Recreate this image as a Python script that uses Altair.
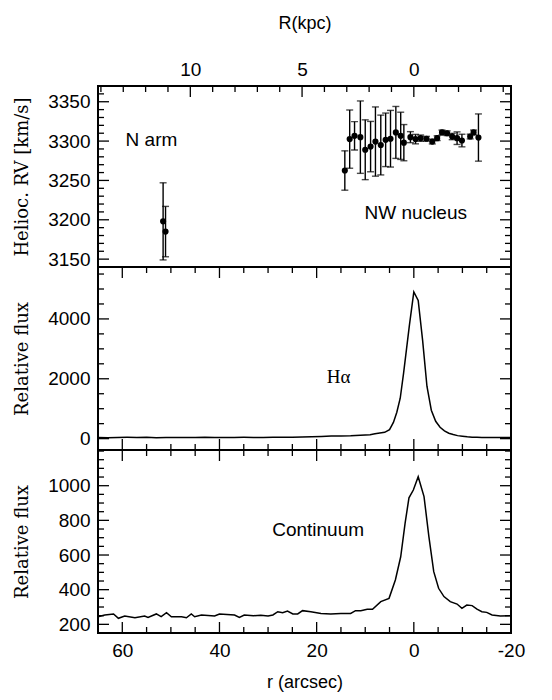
import altair as alt
import pandas as pd

# ---------------- data ----------------
# Top panel: heliocentric radial velocity (km/s) vs r (arcsec), with errors
rv_r = [14.2, 13.2, 12.2, 11.0, 10.0, 8.9, 7.9, 6.8, 5.8, 4.8,
        3.7, 2.7, 2.05, 0.7, -0.35, -1.4, -2.6, -3.8, -4.8, -5.8,
        -6.85, -7.9, -8.9, -9.9, -11.6, -12.3, -13.3, 51.6, 51.1]
rv_v = [3262.6, 3302.5, 3306.7, 3305, 3289, 3293, 3299.4, 3295, 3301.6, 3303,
        3311, 3306.7, 3298, 3305, 3302.5, 3303.7, 3303, 3299.4, 3303.7, 3311,
        3310, 3305.8, 3303.7, 3300.7, 3305.8, 3311, 3304.5, 3198, 3185]
rv_err = [25, 37, 18, 46, 38, 32, 44, 38, 34, 36,
          33, 30, 23, 7, 6, 4, 3, 3, 3, 3,
          3, 4, 8, 8, 3, 3, 30, 49, 32]

# Middle panel: H-alpha relative flux
ha_r = [65, 63, 61, 59, 57, 55, 53, 51, 49, 47,
        45, 43, 41, 39, 37, 35, 33, 31, 29, 27,
        25, 23, 21, 19, 17, 15, 13, 11, 9, 8,
        7, 6, 5, 4.2, 3.5, 2.8, 2.1, 1.5, 0.9, 0,
        -0.9, -1.8, -2.7, -3.6, -4.5, -5.4, -6.3, -7.2, -8.1, -9,
        -10, -11, -12, -13, -14, -16, -18, -20]
ha_f = [35, 30, 38, 42, 40, 45, 30, 38, 35, 40,
        36, 42, 40, 35, 38, 42, 40, 36, 45, 48,
        50, 55, 62, 75, 85, 90, 95, 110, 130, 160,
        185, 210, 300, 540, 880, 1350, 2200, 3000, 3800, 4900,
        4620, 3300, 1750, 950, 580, 380, 260, 180, 135, 100,
        80, 60, 50, 45, 40, 35, 40, 35]

# Bottom panel: continuum relative flux
co_r = [65, 63.6, 61.8, 60.8, 59.5, 57.4, 55.4, 54.7, 53, 52,
        50.9, 49.9, 47.8, 46.8, 45.8, 45.1, 43.7, 41, 40, 36.9,
        35.9, 34.9, 33, 31.5, 30, 29, 28, 27, 26, 24.9,
        23.9, 22.9, 21.2, 19.1, 17.1, 15, 13, 12, 10.9, 9.6,
        8.5, 6.8, 5.1, 3.8, 2.7, 1.8, 1.0, 0.1, -0.9, -2.1,
        -3.1, -4.1, -5.1, -6.2, -7.5, -8.9, -9.9, -10.9, -12, -13,
        -14, -15, -16.1, -17.8, -19.8]
co_f = [244, 254, 260, 235, 248, 238, 248, 240, 260, 244,
        267, 244, 244, 238, 260, 244, 254, 248, 260, 254,
        240, 254, 250, 252, 248, 254, 273, 267, 277, 260,
        260, 279, 273, 263, 260, 263, 263, 279, 279, 287,
        287, 331, 350, 456, 590, 783, 930, 975, 1052, 937,
        706, 504, 408, 360, 331, 317, 292, 311, 308, 288,
        273, 269, 254, 248, 250]

# Axis tick values
x_major = [60, 40, 20, 0, -20]
x_minor = [65, 55, 50, 45, 35, 30, 25, 15, 10, 5, -5, -10, -15]
kpc_major = [10, 5, 0]
kpc_minor = [14, 13, 12, 11, 9, 8, 7, 6, 4, 3, 2, 1, -1, -2, -3, -4]
rv_major = [3150, 3200, 3250, 3300, 3350]
rv_minor = [v for v in range(3140, 3371, 10) if v % 50 != 0]
ha_major = [0, 2000, 4000]
ha_minor = [500, 1000, 1500, 2500, 3000, 3500, 4500, 5000, 5500]
co_major = [200, 400, 600, 800, 1000]
co_minor = [150, 250, 300, 350, 450, 500, 550, 650, 700, 750, 850, 900, 950, 1050, 1100, 1150, 1200]

# Annotations
top_labels = ["N arm", "NW nucleus"]
top_label_r = [54, -0.4]
top_label_v = [3302, 3209]
ha_label = ["Hα"]
ha_label_r = [15.5]
ha_label_f = [2067]
co_label = ["Continuum"]
co_label_r = [19.7]
co_label_f = [744]

# ---------------- layout constants ----------------
W = 413
H1, H2, H3 = 181, 183, 183
XDOM = [65, -20]
KPC_PER_ARCSEC = 5 / 23
KDOM = [XDOM[0] * KPC_PER_ARCSEC, XDOM[1] * KPC_PER_ARCSEC]
SANS = "Liberation Sans"
SERIF_T = "DejaVu Serif"
TW = 1.3
MAJ, MIN = 11, 6


def xs():
    return alt.Scale(domain=XDOM, nice=False, zero=False)


def yaxis(title, values):
    return alt.Axis(title=title, values=values, format="d", tickSize=0, domain=False,
                    grid=False, labelPadding=8, labelFlush=False, labelOverlap=False,
                    titleFont=SERIF_T, titleFontSize=18, titleFontWeight="normal",
                    titlePadding=16)


XAX_BOTTOM = alt.Axis(values=x_major, labelExpr="'' + datum.value", title="r (arcsec)",
                      tickSize=0, domain=False, grid=False, labelPadding=8,
                      labelFlush=False, titlePadding=13)


def xtick_layers(vals, scale, xaxis, H, length):
    base = alt.Chart(pd.DataFrame({"t": vals})).mark_rule(color="black", strokeWidth=TW)
    return [
        base.encode(x=alt.X("t:Q", scale=scale, axis=xaxis), y=alt.value(0), y2=alt.value(length)),
        base.encode(x=alt.X("t:Q", scale=scale, axis=xaxis), y=alt.value(H), y2=alt.value(H - length)),
    ]


def ytick_layers(vals, scale, yax, length):
    base = alt.Chart(pd.DataFrame({"t": vals})).mark_rule(color="black", strokeWidth=TW)
    return [
        base.encode(y=alt.Y("t:Q", scale=scale, axis=yax), x=alt.value(0), x2=alt.value(length)),
        base.encode(y=alt.Y("t:Q", scale=scale, axis=yax), x=alt.value(W), x2=alt.value(W - length)),
    ]


# ---------------- top panel ----------------
ys1 = alt.Scale(domain=[3140, 3370], nice=False, zero=False)
ya1 = yaxis("Helioc. RV [km/s]", rv_major)
rv_df = pd.DataFrame({"r": rv_r, "v": rv_v, "e": rv_err})
rv_base = alt.Chart(rv_df).transform_calculate(lo="datum.v - datum.e", hi="datum.v + datum.e")

ebar = rv_base.mark_rule(color="black", strokeWidth=1.4).encode(
    x=alt.X("r:Q", scale=xs(), axis=None),
    y=alt.Y("lo:Q", scale=ys1, axis=ya1), y2="hi:Q")
cap_lo = rv_base.mark_tick(orient="horizontal", size=7, thickness=1.4, color="black").encode(
    x=alt.X("r:Q", scale=xs(), axis=None), y=alt.Y("lo:Q", scale=ys1, axis=ya1))
cap_hi = rv_base.mark_tick(orient="horizontal", size=7, thickness=1.4, color="black").encode(
    x=alt.X("r:Q", scale=xs(), axis=None), y=alt.Y("hi:Q", scale=ys1, axis=ya1))
pts = alt.Chart(rv_df).mark_circle(size=38, color="black", opacity=1).encode(
    x=alt.X("r:Q", scale=xs(), axis=None),
    y=alt.Y("v:Q", scale=ys1, axis=ya1))
top_txt = alt.Chart(pd.DataFrame({"l": top_labels, "r": top_label_r, "v": top_label_v})).mark_text(
    font=SANS, fontSize=19, color="black", align="center", baseline="middle").encode(
    x=alt.X("r:Q", scale=xs(), axis=None), y=alt.Y("v:Q", scale=ys1, axis=ya1), text="l:N")

kscale = alt.Scale(domain=KDOM, nice=False, zero=False)
KAX = alt.Axis(orient="top", values=kpc_major, format="d", title="R(kpc)",
               tickSize=0, domain=False, grid=False, labelPadding=7,
               labelFlush=False, titlePadding=28)
kpc_major_layer = alt.Chart(pd.DataFrame({"k": kpc_major})).mark_rule(color="black", strokeWidth=TW).encode(
    x=alt.X("k:Q", scale=kscale, axis=KAX), y=alt.value(0), y2=alt.value(MAJ))
kpc_minor_layer = alt.Chart(pd.DataFrame({"k": kpc_minor})).mark_rule(color="black", strokeWidth=TW).encode(
    x=alt.X("k:Q", scale=kscale, axis=None), y=alt.value(0), y2=alt.value(MIN))

top = alt.layer(
    ebar, cap_lo, cap_hi, pts, top_txt, kpc_major_layer, kpc_minor_layer,
    *ytick_layers(rv_major, ys1, ya1, MAJ), *ytick_layers(rv_minor, ys1, ya1, MIN)
).resolve_scale(x="independent").properties(width=W, height=H1)

# ---------------- middle panel ----------------
ys2 = alt.Scale(domain=[-380, 5735], nice=False, zero=False)
ya2 = yaxis("Relative flux", ha_major)
ha_line = alt.Chart(pd.DataFrame({"r": ha_r, "f": ha_f})).mark_line(color="black", strokeWidth=1.5).encode(
    x=alt.X("r:Q", scale=xs(), axis=None),
    y=alt.Y("f:Q", scale=ys2, axis=ya2))
ha_txt = alt.Chart(pd.DataFrame({"l": ha_label, "r": ha_label_r, "f": ha_label_f})).mark_text(
    font="Liberation Serif", fontSize=19, color="black", align="center", baseline="middle").encode(
    x=alt.X("r:Q", scale=xs(), axis=None), y=alt.Y("f:Q", scale=ys2, axis=ya2), text="l:N")
mid = alt.layer(
    ha_line, ha_txt,
    *xtick_layers(x_major, xs(), None, H2, MAJ),
    *xtick_layers(x_minor, xs(), None, H2, MIN),
    *ytick_layers(ha_major, ys2, ya2, MAJ), *ytick_layers(ha_minor, ys2, ya2, MIN)
).properties(width=W, height=H2)

# ---------------- bottom panel ----------------
ys3 = alt.Scale(domain=[150, 1206], nice=False, zero=False)
ya3 = yaxis("Relative flux", co_major)
co_line = alt.Chart(pd.DataFrame({"r": co_r, "f": co_f})).mark_line(color="black", strokeWidth=1.5).encode(
    x=alt.X("r:Q", scale=xs(), axis=XAX_BOTTOM),
    y=alt.Y("f:Q", scale=ys3, axis=ya3))
co_txt = alt.Chart(pd.DataFrame({"l": co_label, "r": co_label_r, "f": co_label_f})).mark_text(
    font=SANS, fontSize=19, color="black", align="center", baseline="middle").encode(
    x=alt.X("r:Q", scale=xs(), axis=XAX_BOTTOM), y=alt.Y("f:Q", scale=ys3, axis=ya3), text="l:N")
bot = alt.layer(
    co_line, co_txt,
    *xtick_layers(x_major, xs(), XAX_BOTTOM, H3, MAJ),
    *xtick_layers(x_minor, xs(), XAX_BOTTOM, H3, MIN),
    *ytick_layers(co_major, ys3, ya3, MAJ), *ytick_layers(co_minor, ys3, ya3, MIN)
).properties(width=W, height=H3)

chart = alt.vconcat(top, mid, bot, spacing=0, bounds="flush").properties(
    padding={"left": 4, "top": 5, "right": 5, "bottom": 5}
).configure_view(
    stroke="black", strokeWidth=2
).configure_axis(
    labelFont=SANS, labelFontSize=19, labelColor="black",
    titleFont=SANS, titleFontSize=18, titleFontWeight="normal", titleColor="black",
    grid=False
)

chart.save("out.html", embed_options={"renderer": "svg", "actions": False})
